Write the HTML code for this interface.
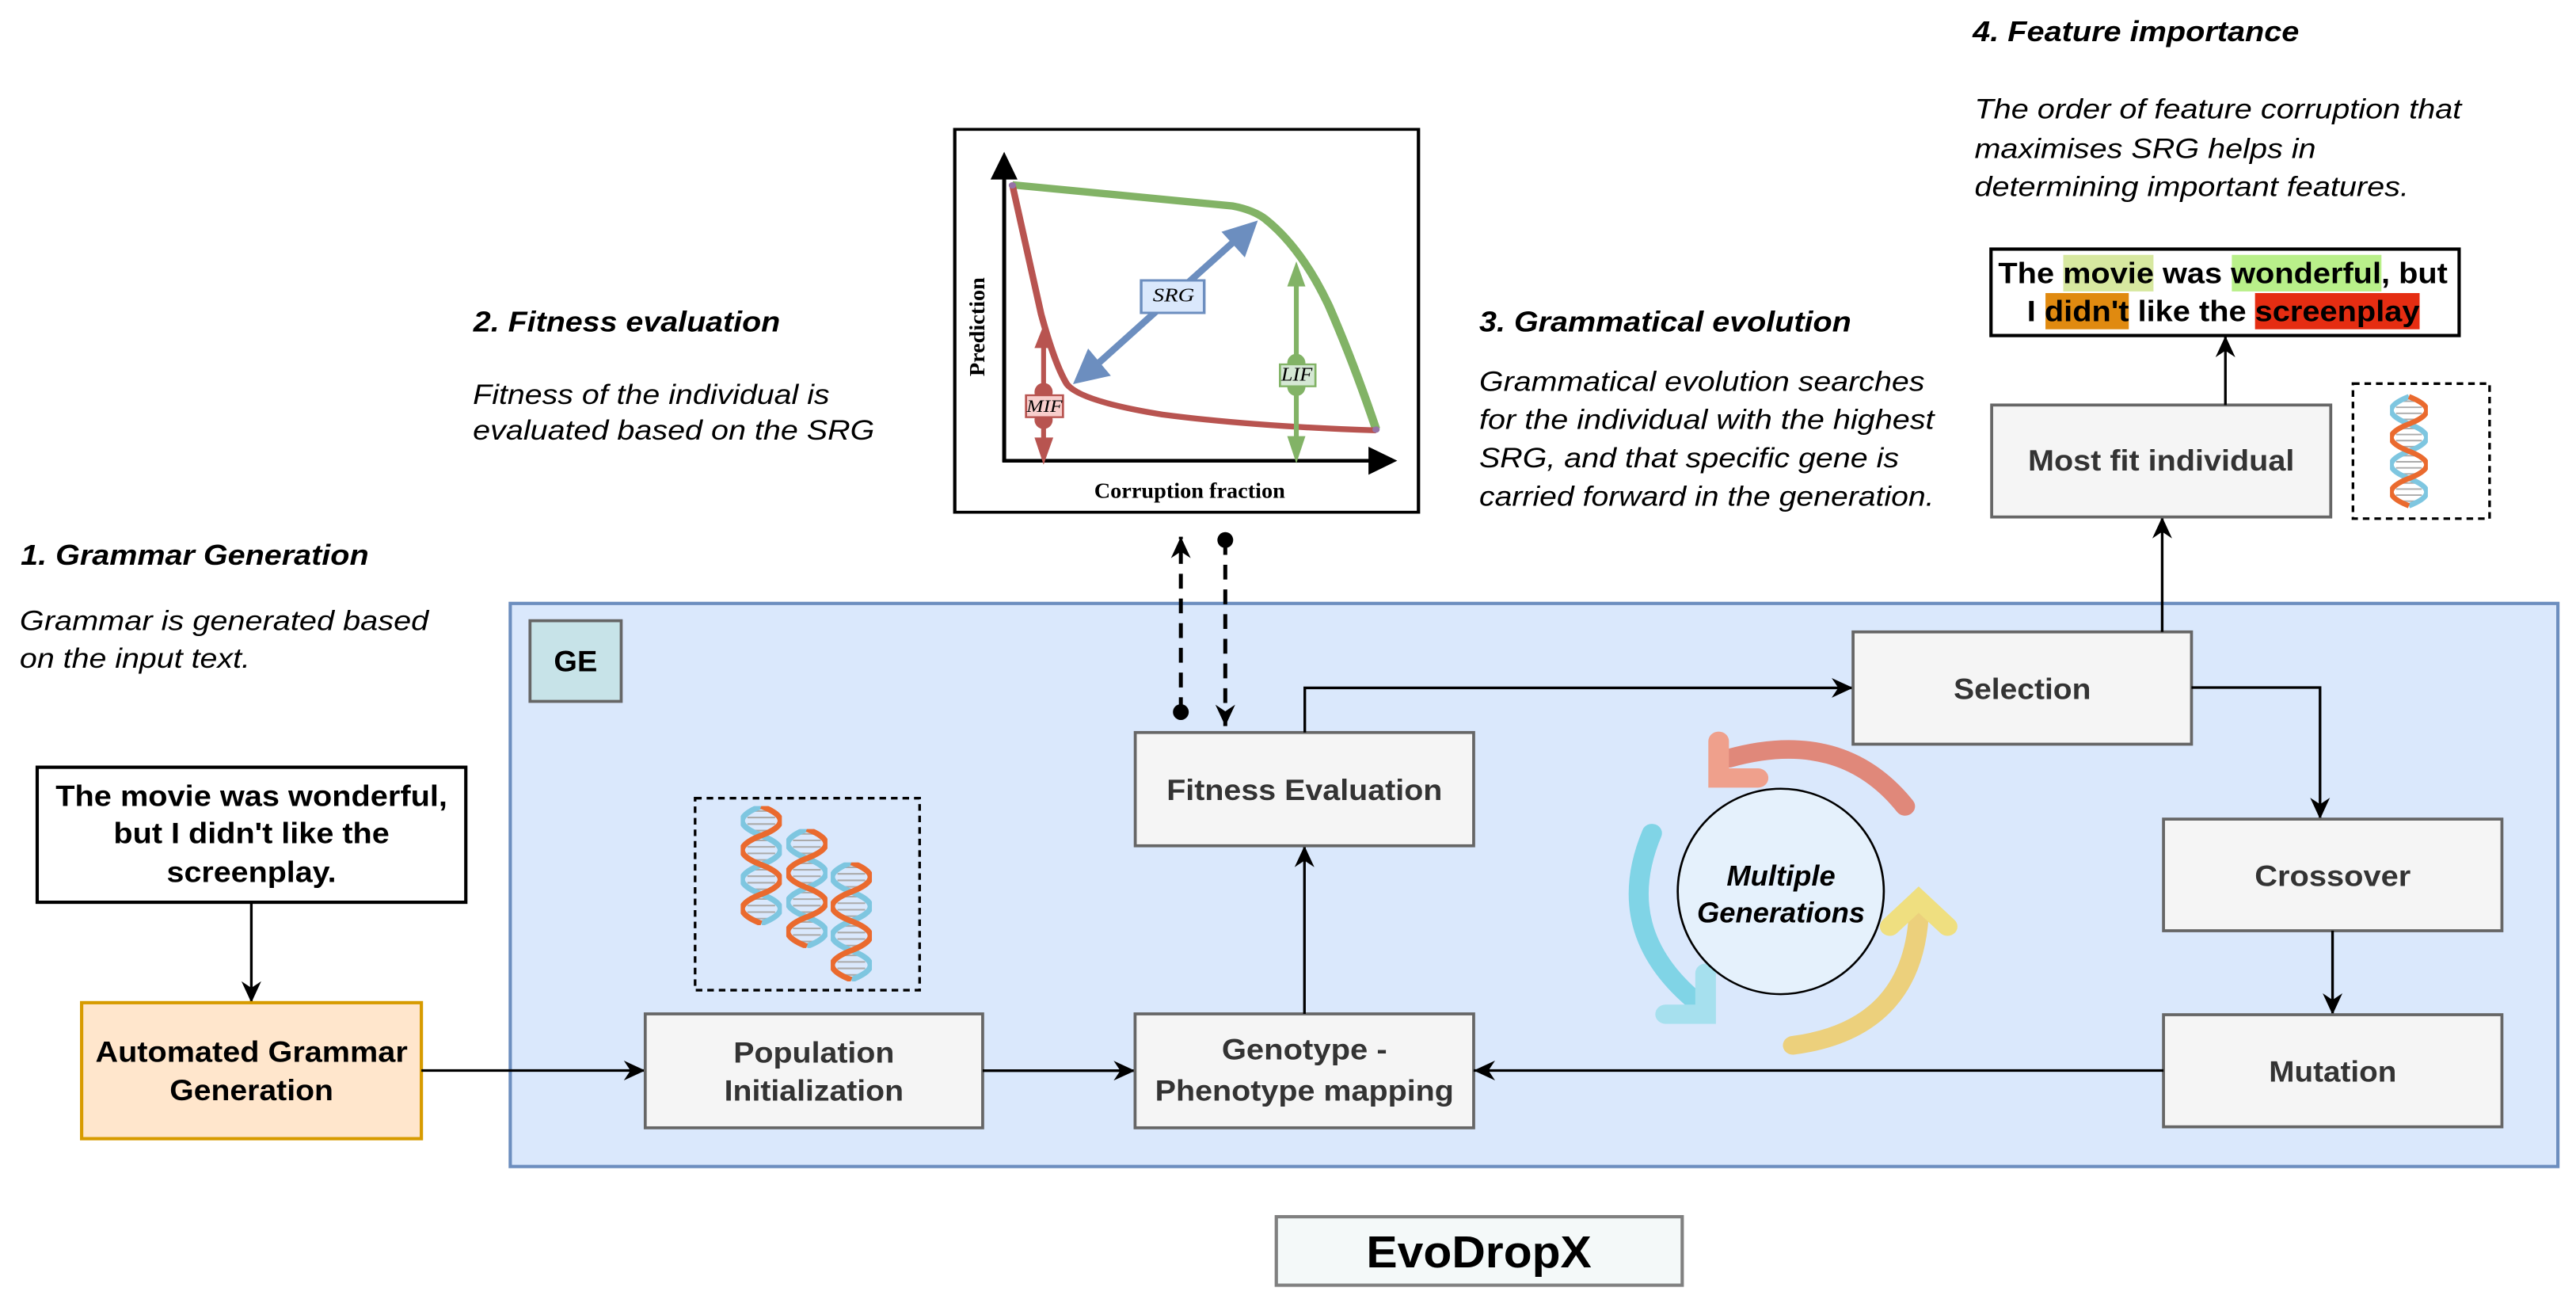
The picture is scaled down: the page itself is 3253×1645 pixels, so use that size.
<!DOCTYPE html>
<html><head><meta charset="utf-8"><style>
html,body{margin:0;padding:0;background:#fff;}
svg{display:block;}
.b{font-family:"Liberation Sans",sans-serif;font-weight:bold;}
.i{font-family:"Liberation Sans",sans-serif;font-style:italic;}
.bi{font-family:"Liberation Sans",sans-serif;font-style:italic;font-weight:bold;}
.sf{font-family:"Liberation Serif",serif;}
</style></head><body>
<svg width="3253" height="1645" viewBox="0 0 1565 791.4" preserveAspectRatio="none" xmlns="http://www.w3.org/2000/svg">
<defs>
<marker id="ar" viewBox="-14 -7 15 14" refX="0" refY="0" markerWidth="15" markerHeight="14" markerUnits="userSpaceOnUse" orient="auto">
<path d="M0,0 L-13,-6 L-9,0 L-13,6 Z" fill="#000"/>
</marker>
<symbol id="dna" viewBox="0 0 25 73">
<g stroke="#aaa" stroke-width="1">
<line x1="6" y1="3" x2="19" y2="3"/><line x1="4" y1="7" x2="21" y2="7"/><line x1="4" y1="11" x2="21" y2="11"/><line x1="6" y1="15" x2="19" y2="15"/>
<line x1="6" y1="21" x2="19" y2="21"/><line x1="4" y1="25" x2="21" y2="25"/><line x1="4" y1="29" x2="21" y2="29"/><line x1="6" y1="33" x2="19" y2="33"/>
<line x1="6" y1="39" x2="19" y2="39"/><line x1="4" y1="43" x2="21" y2="43"/><line x1="4" y1="47" x2="21" y2="47"/><line x1="6" y1="51" x2="19" y2="51"/>
<line x1="6" y1="57" x2="19" y2="57"/><line x1="4" y1="61" x2="21" y2="61"/><line x1="4" y1="65" x2="21" y2="65"/><line x1="6" y1="69" x2="19" y2="69"/>
</g>
<path d="M12.5,0 Q-11,9 12.5,18 T12.5,36 T12.5,54 T12.5,72" fill="none" stroke="#7ec6e0" stroke-width="3.5"/>
<path d="M12.5,0 Q36,9 12.5,18 T12.5,36 T12.5,54 T12.5,72" fill="none" stroke="#ea6a2e" stroke-width="3.5"/>
</symbol>
</defs>

<text class="bi" x="1198.5" y="25" font-size="17.5" textLength="198.3" lengthAdjust="spacingAndGlyphs">4. Feature importance</text>
<text class="i" x="1199.6" y="72" font-size="17" textLength="295.8" lengthAdjust="spacingAndGlyphs">The order of feature corruption that</text>
<text class="i" x="1199.6" y="96" font-size="17" textLength="207.4" lengthAdjust="spacingAndGlyphs">maximises SRG helps in</text>
<text class="i" x="1199.6" y="119" font-size="17" textLength="263.9" lengthAdjust="spacingAndGlyphs">determining important features.</text>

<text class="bi" x="287.6" y="201.3" font-size="17.5" textLength="186.4" lengthAdjust="spacingAndGlyphs">2. Fitness evaluation</text>
<text class="i" x="287.3" y="245.4" font-size="17" textLength="216.7" lengthAdjust="spacingAndGlyphs">Fitness of the individual is</text>
<text class="i" x="287.3" y="267" font-size="17" textLength="244" lengthAdjust="spacingAndGlyphs">evaluated based on the SRG</text>

<text class="bi" x="898.7" y="201.3" font-size="17.5" textLength="226" lengthAdjust="spacingAndGlyphs">3. Grammatical evolution</text>
<text class="i" x="898.7" y="237.3" font-size="17" textLength="270.6" lengthAdjust="spacingAndGlyphs">Grammatical evolution searches</text>
<text class="i" x="898.7" y="260.6" font-size="17" textLength="276.4" lengthAdjust="spacingAndGlyphs">for the individual with the highest</text>
<text class="i" x="898.7" y="283.8" font-size="17" textLength="255" lengthAdjust="spacingAndGlyphs">SRG, and that specific gene is</text>
<text class="i" x="898.7" y="307.1" font-size="17" textLength="276.4" lengthAdjust="spacingAndGlyphs">carried forward in the generation.</text>

<text class="bi" x="12.6" y="343.1" font-size="17.5" textLength="211.4" lengthAdjust="spacingAndGlyphs">1. Grammar Generation</text>
<text class="i" x="12" y="382.6" font-size="17" textLength="248.4" lengthAdjust="spacingAndGlyphs">Grammar is generated based</text>
<text class="i" x="12" y="405.6" font-size="17" textLength="140" lengthAdjust="spacingAndGlyphs">on the input text.</text>

<rect x="310" y="366.5" width="1244" height="342" fill="#dae8fc" stroke="#6c8ebf" stroke-width="2"/>
<rect x="322" y="377" width="55.4" height="49" fill="#c7e3e8" stroke="#666" stroke-width="1.8"/>
<text class="b" x="349.7" y="407.8" font-size="18" text-anchor="middle" textLength="26.4" lengthAdjust="spacingAndGlyphs">GE</text>

<rect x="22.6" y="466" width="260.4" height="82" fill="#fff" stroke="#000" stroke-width="2"/>
<text class="b" x="152.8" y="489.6" font-size="18" text-anchor="middle" textLength="238" lengthAdjust="spacingAndGlyphs">The movie was wonderful,</text>
<text class="b" x="152.8" y="512.2" font-size="18" text-anchor="middle" textLength="167.6" lengthAdjust="spacingAndGlyphs">but I didn't like the</text>
<text class="b" x="152.8" y="535.6" font-size="18" text-anchor="middle" textLength="103" lengthAdjust="spacingAndGlyphs">screenplay.</text>
<line x1="152.7" y1="548" x2="152.7" y2="609" stroke="#000" stroke-width="1.6" marker-end="url(#ar)"/>

<rect x="49.6" y="609" width="206.4" height="82.6" fill="#ffe6cc" stroke="#d79b00" stroke-width="2"/>
<text class="b" x="152.8" y="645" font-size="18" text-anchor="middle" textLength="189.7" lengthAdjust="spacingAndGlyphs">Automated Grammar</text>
<text class="b" x="152.8" y="668.3" font-size="18" text-anchor="middle" textLength="99.4" lengthAdjust="spacingAndGlyphs">Generation</text>
<line x1="256" y1="650.2" x2="392" y2="650.2" stroke="#000" stroke-width="1.6" marker-end="url(#ar)"/>

<rect x="422.3" y="484.8" width="136.4" height="116.6" fill="none" stroke="#000" stroke-width="1.6" stroke-dasharray="4,3"/>
<use href="#dna" x="450" y="489.6" width="25" height="72.3"/>
<use href="#dna" x="477.7" y="503.5" width="25" height="72.3"/>
<use href="#dna" x="504.7" y="523.8" width="25" height="72.3"/>

<rect x="392" y="615.8" width="205" height="69.2" fill="#f5f5f5" stroke="#666" stroke-width="1.8"/>
<text class="b" x="494.5" y="645.5" font-size="18" fill="#333" text-anchor="middle" textLength="97.7" lengthAdjust="spacingAndGlyphs">Population</text>
<text class="b" x="494.5" y="668.4" font-size="18" fill="#333" text-anchor="middle" textLength="108.9" lengthAdjust="spacingAndGlyphs">Initialization</text>
<line x1="597" y1="650.3" x2="689.6" y2="650.3" stroke="#000" stroke-width="1.6" marker-end="url(#ar)"/>

<rect x="689.6" y="615.8" width="205.7" height="69.2" fill="#f5f5f5" stroke="#666" stroke-width="1.8"/>
<text class="b" x="792.5" y="643.5" font-size="18" fill="#333" text-anchor="middle" textLength="100.5" lengthAdjust="spacingAndGlyphs">Genotype -</text>
<text class="b" x="792.5" y="668.4" font-size="18" fill="#333" text-anchor="middle" textLength="181.5" lengthAdjust="spacingAndGlyphs">Phenotype mapping</text>
<line x1="792.5" y1="615.8" x2="792.5" y2="513.7" stroke="#000" stroke-width="1.6" marker-end="url(#ar)"/>

<rect x="689.7" y="444.9" width="205.6" height="68.8" fill="#f5f5f5" stroke="#666" stroke-width="1.8"/>
<text class="b" x="792.5" y="485.8" font-size="18" fill="#333" text-anchor="middle" textLength="167.5" lengthAdjust="spacingAndGlyphs">Fitness Evaluation</text>
<polyline points="792.7,444.9 792.7,417.8 1125.8,417.8" fill="none" stroke="#000" stroke-width="1.6" marker-end="url(#ar)"/>

<line x1="717.4" y1="432.5" x2="717.4" y2="326" stroke="#000" stroke-width="2.4" stroke-dasharray="9,6" marker-end="url(#ar)"/>
<circle cx="717.4" cy="432.5" r="4.8" fill="#000"/>
<line x1="744.4" y1="328" x2="744.4" y2="441" stroke="#000" stroke-width="2.4" stroke-dasharray="9,6" marker-end="url(#ar)"/>
<circle cx="744.4" cy="328" r="4.8" fill="#000"/>

<rect x="1125.8" y="383.8" width="205.6" height="68.2" fill="#f5f5f5" stroke="#666" stroke-width="1.8"/>
<text class="b" x="1228.6" y="424.5" font-size="18" fill="#333" text-anchor="middle" textLength="83.4" lengthAdjust="spacingAndGlyphs">Selection</text>
<polyline points="1331.4,417.6 1409.5,417.6 1409.5,497.5" fill="none" stroke="#000" stroke-width="1.6" marker-end="url(#ar)"/>
<line x1="1313.6" y1="383.8" x2="1313.6" y2="314" stroke="#000" stroke-width="1.6" marker-end="url(#ar)"/>

<rect x="1314.4" y="497.5" width="205.6" height="67.8" fill="#f5f5f5" stroke="#666" stroke-width="1.8"/>
<text class="b" x="1417.2" y="538" font-size="18" fill="#333" text-anchor="middle" textLength="94.8" lengthAdjust="spacingAndGlyphs">Crossover</text>
<line x1="1417.1" y1="565.3" x2="1417.1" y2="616.3" stroke="#000" stroke-width="1.6" marker-end="url(#ar)"/>

<rect x="1314.4" y="616.3" width="205.6" height="68.1" fill="#f5f5f5" stroke="#666" stroke-width="1.8"/>
<text class="b" x="1417.2" y="657" font-size="18" fill="#333" text-anchor="middle" textLength="77.5" lengthAdjust="spacingAndGlyphs">Mutation</text>
<line x1="1314.4" y1="650.2" x2="895.3" y2="650.2" stroke="#000" stroke-width="1.6" marker-end="url(#ar)"/>

<rect x="1210" y="246" width="206" height="68" fill="#f5f5f5" stroke="#666" stroke-width="1.8"/>
<text class="b" x="1313" y="285.8" font-size="18" fill="#333" text-anchor="middle" textLength="161.8" lengthAdjust="spacingAndGlyphs">Most fit individual</text>
<line x1="1352" y1="246" x2="1352" y2="204" stroke="#000" stroke-width="1.6" marker-end="url(#ar)"/>
<rect x="1429.5" y="233" width="83" height="82" fill="none" stroke="#000" stroke-width="1.6" stroke-dasharray="4,3"/>
<use href="#dna" x="1452" y="238" width="23" height="73"/>

<rect x="1209.6" y="151.3" width="284.4" height="52.5" fill="#fff" stroke="#000" stroke-width="2"/>
<rect x="1253.5" y="154.8" width="54.8" height="22.2" fill="#d7e8a0"/>
<rect x="1355.9" y="154.8" width="90.9" height="22.2" fill="#b9f08a"/>
<rect x="1242.7" y="178" width="50.6" height="22" fill="#e08a10"/>
<rect x="1370" y="178" width="100" height="22" fill="#e52d12"/>
<text class="b" x="1214" y="172" font-size="18" textLength="273" lengthAdjust="spacingAndGlyphs">The movie was wonderful, but</text>
<text class="b" x="1231.5" y="195" font-size="18" textLength="238.5" lengthAdjust="spacingAndGlyphs">I didn't like the screenplay</text>

<g transform="translate(962.2,384.9) scale(0.18412,0.17183)">
<path d="M1060,610 Q850,330 480,440" fill="none" stroke="#e0887a" stroke-width="66" stroke-linecap="round"/>
<path d="M445,380 L445,510 L575,510" fill="none" stroke="#efa08c" stroke-width="68" stroke-linecap="round"/>
<path d="M225,705 Q90,1050 370,1300" fill="none" stroke="#80d4e6" stroke-width="66" stroke-linecap="round"/>
<path d="M402,1200 L402,1345 L270,1345" fill="none" stroke="#a6e0ee" stroke-width="68" stroke-linecap="round"/>
<path d="M690,1455 Q1080,1400 1105,1000" fill="none" stroke="#ecd07c" stroke-width="66" stroke-linecap="round"/>
<path d="M1010,1035 L1105,940 L1200,1035" fill="none" stroke="#efdf80" stroke-width="66" stroke-linecap="round"/>
<ellipse cx="650" cy="911" rx="340" ry="363" fill="#e6f2fc" fill-opacity="0.85" stroke="#000" stroke-width="7"/>
</g>
<text class="bi" x="1082" y="537.8" font-size="17.5" text-anchor="middle">Multiple</text>
<text class="bi" x="1082" y="560.2" font-size="17.5" text-anchor="middle">Generations</text>

<rect x="775.4" y="739" width="246.6" height="41.6" fill="#f4f9f9" stroke="#808080" stroke-width="2"/>
<text class="b" x="898.5" y="769.8" font-size="27" text-anchor="middle" textLength="136.8" lengthAdjust="spacingAndGlyphs">EvoDropX</text>

<g transform="translate(577.3,67.35) scale(0.18412,0.16037)">
<rect x="15" y="70" width="1530" height="1450" fill="#fff" stroke="#000" stroke-width="11"/>
<line x1="178" y1="1330" x2="178" y2="240" stroke="#000" stroke-width="13"/>
<polygon points="178,155 133,260 222,260" fill="#000"/>
<line x1="172" y1="1325" x2="1400" y2="1325" stroke="#000" stroke-width="14"/>
<polygon points="1475,1325 1380,1272 1380,1378" fill="#000"/>
<path d="M205,280 L930,360 Q1000,375 1040,410 Q1160,520 1250,740 Q1330,950 1405,1205" fill="none" stroke="#82b366" stroke-width="28"/>
<path d="M205,280 L300,770 Q345,960 385,1035 Q430,1100 700,1150 Q1000,1195 1405,1210" fill="none" stroke="#b85450" stroke-width="22"/>
<circle cx="205" cy="282" r="12" fill="#9673a6"/>
<circle cx="1405" cy="1207" r="12" fill="#9673a6"/>
<line x1="470" y1="975" x2="960" y2="470" stroke="#6c8ebf" stroke-width="24"/>
<polygon points="1015,415 895,458 972,555" fill="#6c8ebf"/>
<polygon points="405,1035 455,900 530,1003" fill="#6c8ebf"/>
<rect x="630" y="642" width="208" height="123" fill="#dae8fc" stroke="#6c8ebf" stroke-width="9"/>
<text class="sf" x="737" y="722" font-size="72" font-style="italic" text-anchor="middle" textLength="137" lengthAdjust="spacingAndGlyphs">SRG</text>
<line x1="1142" y1="640" x2="1142" y2="1250" stroke="#82b366" stroke-width="16"/>
<polygon points="1142,570 1112,665 1172,665" fill="#82b366"/>
<polygon points="1142,1335 1112,1232 1172,1232" fill="#82b366"/>
<ellipse cx="1142" cy="955" rx="30" ry="35" fill="#82b366"/>
<ellipse cx="1142" cy="1045" rx="30" ry="35" fill="#82b366"/>
<rect x="1088" y="960" width="117" height="83" fill="#d5e8d4" stroke="#82b366" stroke-width="7"/>
<text class="sf" x="1092" y="1022" font-size="72" font-style="italic" textLength="103" lengthAdjust="spacingAndGlyphs">LIF</text>
<line x1="308" y1="880" x2="308" y2="1250" stroke="#b85450" stroke-width="16"/>
<polygon points="312,800 278,898 340,898" fill="#b85450"/>
<polygon points="308,1340 278,1237 340,1237" fill="#b85450"/>
<ellipse cx="308" cy="1065" rx="30" ry="35" fill="#b85450"/>
<ellipse cx="308" cy="1170" rx="30" ry="35" fill="#b85450"/>
<rect x="250" y="1077" width="122" height="83" fill="#f8cecc" stroke="#b85450" stroke-width="7"/>
<text class="sf" x="252" y="1140" font-size="68" font-style="italic" textLength="118" lengthAdjust="spacingAndGlyphs">MIF</text>
<text class="sf" x="0" y="0" font-size="72" font-weight="bold" text-anchor="middle" textLength="375" lengthAdjust="spacingAndGlyphs" transform="translate(112,818) rotate(-90)">Prediction</text>
<text class="sf" x="790" y="1465" font-size="82" font-weight="bold" text-anchor="middle" textLength="630" lengthAdjust="spacingAndGlyphs">Corruption fraction</text>
</g>
</svg>
</body></html>
